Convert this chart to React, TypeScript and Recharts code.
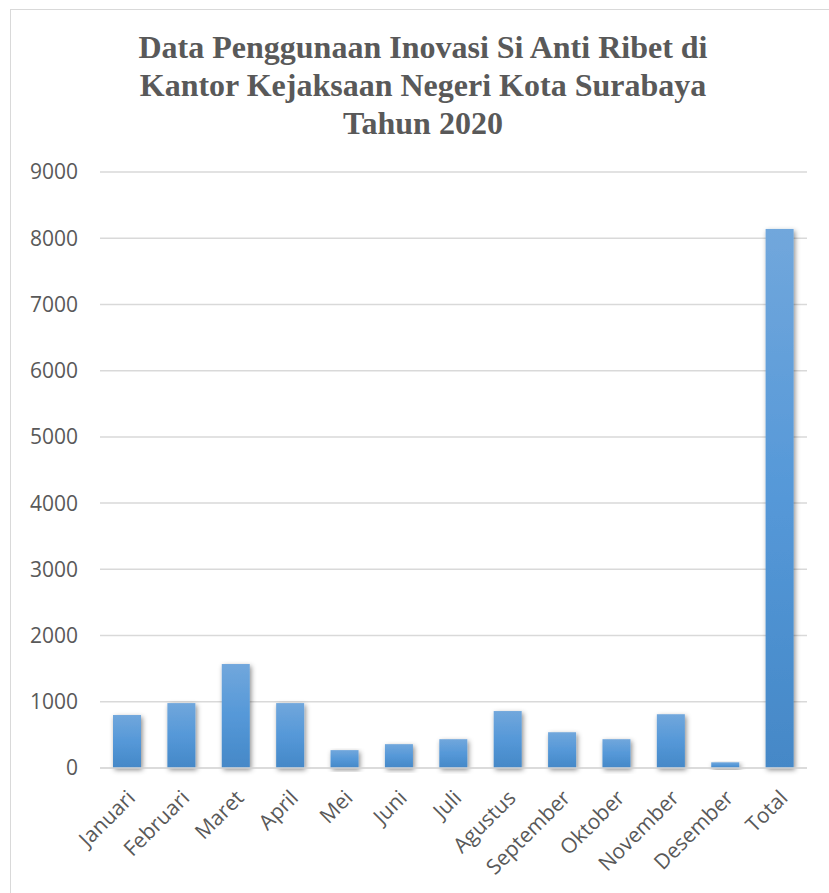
import { BarChart, Bar, XAxis, YAxis, CartesianGrid } from 'recharts'

const months = [
  'Januari', 'Februari', 'Maret', 'April', 'Mei', 'Juni', 'Juli',
  'Agustus', 'September', 'Oktober', 'November', 'Desember', 'Total',
]
const usage = [800, 980, 1570, 980, 270, 360, 435, 860, 540, 435, 812, 86, 8140]
const yTicks = [0, 1000, 2000, 3000, 4000, 5000, 6000, 7000, 8000, 9000]
const titleLines = [
  'Data Penggunaan Inovasi Si Anti Ribet di',
  'Kantor Kejaksaan Negeri Kota Surabaya',
  'Tahun 2020',
]

const data = months.map((m, i) => ({ bulan: m, jumlah: usage[i] }))

const textColor = '#595959'
const font = '"Open Sans", sans-serif'

function MonthTick(props: any) {
  const { x, y, payload } = props
  return (
    <g transform={`translate(${x + 4},${y + 18})`}>
      <text
        x={0}
        y={0}
        dy="0.35em"
        textAnchor="end"
        transform="rotate(-45)"
        fill={textColor}
        fontSize={21}
        fontFamily={font}
      >
        {payload.value}
      </text>
    </g>
  )
}

function ShadowBar(props: any) {
  const { x, y, width, height } = props
  if (!height || height <= 0) return null
  return (
    <rect
      x={x}
      y={y}
      width={width}
      height={height}
      fill="url(#barGrad)"
      filter="url(#barShadow)"
    />
  )
}

export default function App() {
  return (
    <div style={{ position: 'absolute', left: 0, top: 0, width: 829, height: 893, background: '#fff' }}>
      <div
        style={{
          position: 'absolute',
          left: 10,
          top: 9,
          width: 840,
          height: 900,
          border: '1px solid #d9d9d9',
          boxSizing: 'border-box',
        }}
      />
      <div
        style={{
          position: 'absolute',
          left: 0,
          top: 28,
          width: 846,
          textAlign: 'center',
          fontFamily: '"Liberation Serif", "Times New Roman", serif',
          fontWeight: 'bold',
          fontSize: 32,
          lineHeight: '38px',
          color: textColor,
        }}
      >
        {titleLines.map((t) => (
          <div key={t}>{t}</div>
        ))}
      </div>
      <div style={{ position: 'absolute', left: 0, top: 0 }}>
        <BarChart
          width={829}
          height={893}
          data={data}
          margin={{ top: 172, right: 22, left: 0, bottom: 5 }}
        >
          <defs>
            <linearGradient id="barGrad" x1="0" y1="0" x2="0" y2="1">
              <stop offset="0%" stopColor="#71a7dc" />
              <stop offset="50%" stopColor="#5598d8" />
              <stop offset="100%" stopColor="#4588c7" />
            </linearGradient>
            <filter id="barShadow" x="-50%" y="-10%" width="200%" height="130%">
              <feDropShadow dx="1.5" dy="2" stdDeviation="2.5" floodColor="#000" floodOpacity="0.45" />
            </filter>
          </defs>
          <CartesianGrid vertical={false} stroke="#d9d9d9" strokeWidth={1.5} />
          <XAxis
            dataKey="bulan"
            interval={0}
            height={120}
            tickLine={false}
            axisLine={{ stroke: '#d9d9d9', strokeWidth: 1.5 }}
            tick={<MonthTick />}
          />
          <YAxis
            domain={[0, 9000]}
            ticks={yTicks}
            width={100}
            axisLine={false}
            tickLine={false}
            tickSize={0}
            tickMargin={22}
            tick={{ fill: textColor, fontSize: 21, fontFamily: font }}
          />
          <Bar dataKey="jumlah" barSize={28} shape={<ShadowBar />} isAnimationActive={false} />
        </BarChart>
      </div>
    </div>
  )
}
